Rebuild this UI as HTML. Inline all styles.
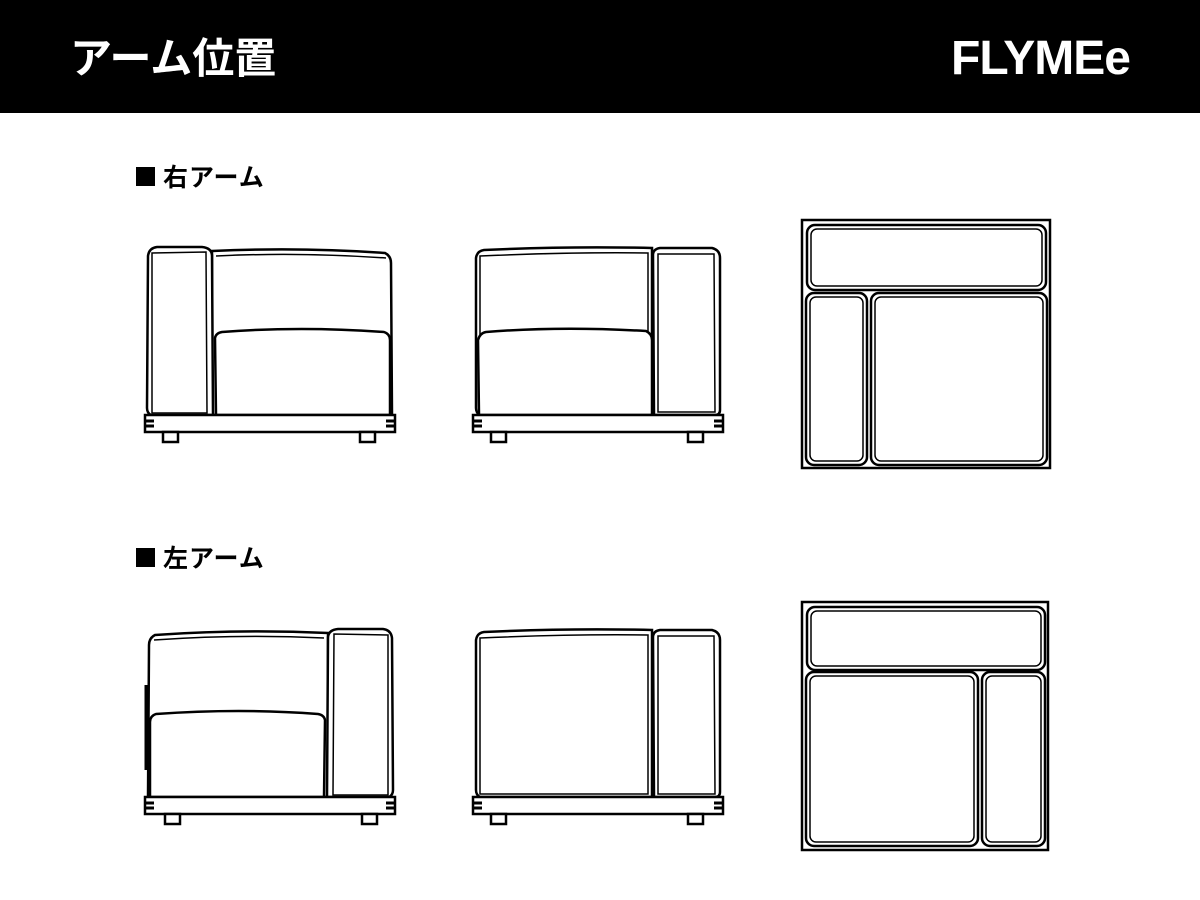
<!DOCTYPE html>
<html><head><meta charset="utf-8"><style>
html,body{margin:0;padding:0;background:#fff;}
body{width:1200px;height:900px;overflow:hidden;position:relative;}
</style></head><body>
<svg width="1200" height="900" viewBox="0 0 1200 900" xmlns="http://www.w3.org/2000/svg" style="position:absolute;left:0;top:0">
<rect x="0" y="0" width="1200" height="113" fill="#000"/>
<text x="70" y="73" fill="#fff" font-family="'Liberation Sans','Noto Sans CJK JP',sans-serif" font-weight="bold" font-size="42">アーム位置</text>
<text x="1130" y="74" fill="#fff" text-anchor="end" font-family="'Liberation Sans',sans-serif" font-weight="bold" font-size="48" letter-spacing="-1">FLYMEe</text>
<rect x="136" y="167" width="19" height="19" fill="#000"/>
<rect x="136" y="548" width="19" height="19" fill="#000"/>
<g font-family="'Liberation Sans','Noto Sans CJK JP',sans-serif" font-weight="bold" font-size="25" fill="#000" letter-spacing="1">
<text x="163" y="186">右アーム</text>
<text x="163" y="567">左アーム</text>
</g>
<defs>
<g id="base" fill="#fff" stroke="#000" stroke-width="2.5">
<rect x="145" y="415" width="250" height="17"/>
<line x1="146" y1="421" x2="154" y2="421" stroke-width="3"/>
<line x1="146" y1="426" x2="154" y2="426" stroke-width="3"/>
<line x1="386" y1="421" x2="394" y2="421" stroke-width="3"/>
<line x1="386" y1="426" x2="394" y2="426" stroke-width="3"/>
<rect x="163" y="432" width="15" height="10"/>
<rect x="360" y="432" width="15" height="10"/>
</g>
<g id="frontA" fill="#fff" stroke="#000" stroke-width="2.5">
<path d="M212 251 Q300 247 385 253 Q391 256 391 263 L392 415 L212 415 Z"/>
<path d="M216 256 Q300 252 386 258" fill="none" stroke-width="1.5"/>
<path d="M216 415 L215 338 Q216 333 222 332 Q300 326 384 332 Q390 334 390 340 L390 415 Z"/>
<path d="M148 256 Q149 248 157 247 L202 247 Q212 248 212 256 L213 415 L151 415 Q147 413 147 408 Z"/>
<path d="M152 253 L206 252 L207 413 L152 413 Z" fill="none" stroke-width="1.5"/>
</g>
<g id="frontB" fill="#fff" stroke="#000" stroke-width="2.5">
<path d="M476 258 Q477 251 484 250 Q570 246 652 248 L652 415 L480 415 Q476 413 476 408 Z"/>
<path d="M480 256 Q570 252 648 253 L648 412 L480 412 Z" fill="none" stroke-width="1.5"/>
<path d="M660 248 L712 248 Q720 250 720 258 L720 410 Q720 415 715 415 L654 415 L653 255 Q653 249 660 248 Z"/>
<path d="M658 254 L714 254 L715 412 L658 412 Z" fill="none" stroke-width="1.5"/>
</g>
</defs>
<use href="#frontA"/>
<use href="#base"/>
<use href="#frontB"/>
<path d="M479 415 L478 340 Q480 333 486 332 Q560 326 646 331 Q652 334 652 340 L652 415 Z" fill="#fff" stroke="#000" stroke-width="2.5"/>
<use href="#base" transform="translate(328,0)"/>
<g fill="#fff" stroke="#000" stroke-width="2.5">
<rect x="802" y="220" width="248" height="248"/>
<rect x="807" y="225" width="239" height="65" rx="8"/>
<rect x="811" y="229" width="231" height="57" rx="6" fill="none" stroke-width="1.5"/>
<rect x="806" y="293" width="61" height="172" rx="8"/>
<rect x="810" y="297" width="53" height="164" rx="6" fill="none" stroke-width="1.5"/>
<rect x="871" y="293" width="176" height="172" rx="8"/>
<rect x="875" y="297" width="168" height="164" rx="6" fill="none" stroke-width="1.5"/>
</g>
<g transform="translate(540,382) scale(-1,1)">
<use href="#frontA"/>
<use href="#base"/>
</g>
<line x1="146" y1="685" x2="146" y2="770" stroke="#000" stroke-width="3"/>
<g transform="translate(0,382)">
<use href="#frontB"/>
<use href="#base" transform="translate(328,0)"/>
</g>
<g fill="#fff" stroke="#000" stroke-width="2.5">
<rect x="802" y="602" width="246" height="248"/>
<rect x="807" y="607" width="238" height="63" rx="8"/>
<rect x="811" y="611" width="230" height="55" rx="6" fill="none" stroke-width="1.5"/>
<rect x="806" y="672" width="172" height="174" rx="8"/>
<rect x="810" y="676" width="164" height="166" rx="6" fill="none" stroke-width="1.5"/>
<rect x="982" y="672" width="63" height="174" rx="8"/>
<rect x="986" y="676" width="55" height="166" rx="6" fill="none" stroke-width="1.5"/>
</g>
</svg>
</body></html>
